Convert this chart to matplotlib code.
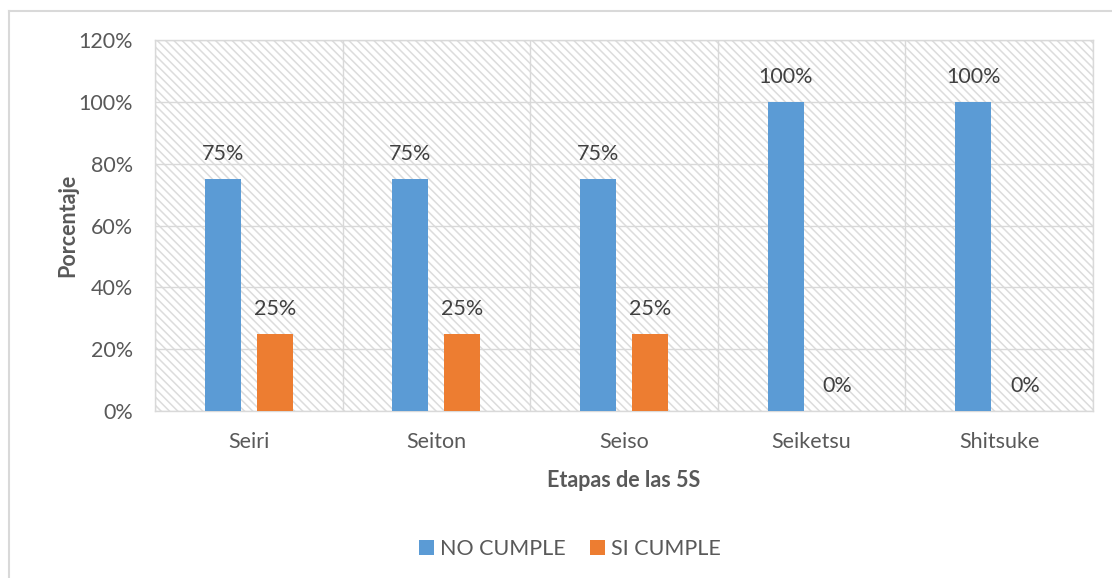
import matplotlib.pyplot as plt
import matplotlib.patches as mpatches
from matplotlib.lines import Line2D
from matplotlib.ticker import FuncFormatter, FixedLocator
import numpy as np

plt.rcParams['font.family'] = ['Lato', 'DejaVu Sans']
plt.rcParams['hatch.linewidth'] = 1.1

# Datos
etapas = ["Seiri", "Seiton", "Seiso", "Seiketsu", "Shitsuke"]
no_cumple = [75, 75, 75, 100, 100]
si_cumple = [25, 25, 25, 0, 0]

AZUL = "#5b9bd5"
NARANJA = "#ed7d31"
GRIS = "#d9d9d9"
TEXTO = "#595959"
FS = 15.5

fig = plt.figure(figsize=(11.12, 5.78), dpi=100)
ax = fig.add_axes([155 / 1112, 1 - 411 / 578, 938 / 1112, 371 / 578])

x = np.arange(len(etapas))
ancho = 0.192
desp = 0.139

# fondo rayado del área de trazado
ax.add_patch(mpatches.Rectangle((0, 0), 1, 1, transform=ax.transAxes,
                                facecolor="white", edgecolor="#dcdcdc",
                                hatch="\\" * 4, linewidth=0, zorder=0))

b1 = ax.bar(x - desp, no_cumple, ancho, color=AZUL, label="NO CUMPLE", zorder=3)
b2 = ax.bar(x + desp, si_cumple, ancho, color=NARANJA, label="SI CUMPLE", zorder=3)

for barras in (b1, b2):
    for b in barras:
        v = b.get_height()
        ax.annotate(f"{v:.0f}%", (b.get_x() + b.get_width() / 2, v),
                    xytext=(0, 18), textcoords="offset points",
                    ha="center", va="center", fontsize=FS, color="#404040",
                    zorder=4)

ax.set_xlim(-0.5, len(etapas) - 0.5)
ax.set_ylim(0, 120)
ax.set_yticks(np.arange(0, 121, 20))
ax.yaxis.set_major_formatter(FuncFormatter(lambda v, p: f"{v:.0f}%"))
ax.set_xticks(x)
ax.set_xticklabels(etapas)
ax.xaxis.set_minor_locator(FixedLocator(np.arange(-0.5, len(etapas), 1)))

ax.grid(axis="y", which="major", color=GRIS, linewidth=1.0, zorder=1)
ax.grid(axis="x", which="minor", color=GRIS, linewidth=1.0, zorder=1)
ax.grid(axis="x", which="major", visible=False)
ax.set_axisbelow(True)

for s in ax.spines.values():
    s.set_color(GRIS)
    s.set_linewidth(1.0)

ax.tick_params(axis="both", which="both", length=0, labelsize=FS,
               labelcolor=TEXTO)
ax.tick_params(axis="x", pad=15)
ax.tick_params(axis="y", pad=16)

ax.set_xlabel("Etapas de las 5S", fontsize=FS, fontweight="bold",
              color=TEXTO, labelpad=13)
ax.set_ylabel("Porcentaje", fontsize=FS, fontweight="bold",
              color=TEXTO, labelpad=0)

leg = fig.legend(handles=[b1, b2], loc="center", bbox_to_anchor=(570 / 1112, 1 - 549 / 578),
                 ncol=2, frameon=False, fontsize=FS, handlelength=0.7,
                 handleheight=0.7, columnspacing=1.1, handletextpad=0.3)
for t in leg.get_texts():
    t.set_color(TEXTO)

# marco exterior del gráfico
fig.add_artist(Line2D([8.5 / 1112, 1], [1 - 10.5 / 578] * 2,
                      transform=fig.transFigure, color=GRIS, linewidth=1.5))
fig.add_artist(Line2D([8.5 / 1112] * 2, [0, 1 - 10.5 / 578],
                      transform=fig.transFigure, color=GRIS, linewidth=1.5))

fig.savefig("out.png", dpi=100)
